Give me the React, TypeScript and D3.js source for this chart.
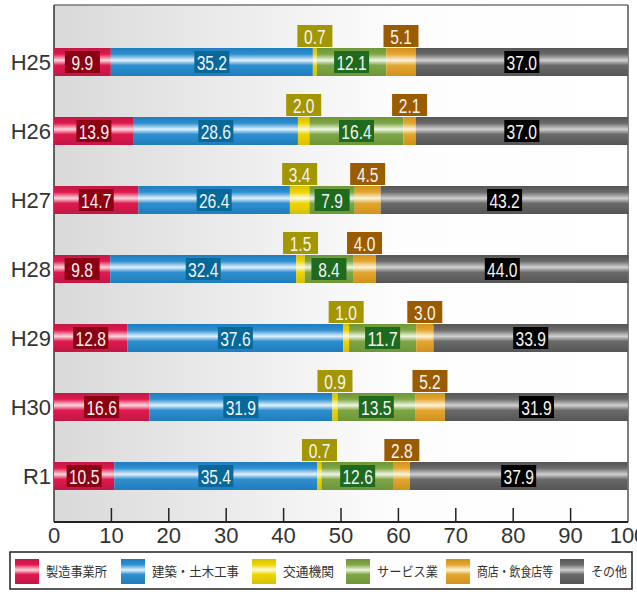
import * as d3 from "d3";

const years = ["H25", "H26", "H27", "H28", "H29", "H30", "R1"];
const seriesNames = ["製造事業所", "建築・土木工事", "交通機関", "サービス業", "商店・飲食店等", "その他"];
const manufacturing = [9.9, 13.9, 14.7, 9.8, 12.8, 16.6, 10.5];
const construction = [35.2, 28.6, 26.4, 32.4, 37.6, 31.9, 35.4];
const transport = [0.7, 2.0, 3.4, 1.5, 1.0, 0.9, 0.7];
const service = [12.1, 16.4, 7.9, 8.4, 11.7, 13.5, 12.6];
const shops = [5.1, 2.1, 4.5, 4.0, 3.0, 5.2, 2.8];
const other = [37.0, 37.0, 43.2, 44.0, 33.9, 31.9, 37.9];
const xTicks = [0, 10, 20, 30, 40, 50, 60, 70, 80, 90, 100];

const seriesValues = [manufacturing, construction, transport, service, shops, other];
// bar colours: [edge, base, highlight]
const barColors = [
  ["#c01848", "#e0184e", "#fbd8de"],
  ["#1f7cbd", "#2e8fcf", "#e2f1ff"],
  ["#d8c000", "#ecd500", "#fffbe0"],
  ["#6e9638", "#7fa646", "#eef6e2"],
  ["#d0921c", "#e3a630", "#fff4dc"],
  ["#555555", "#6a6a6a", "#d0d0d0"],
];
const labelFill = ["#8c0012", "#07689a", "#a39600", "#1e6a1e", "#9b5b00", "#000000"];
const labelAbove = [false, false, true, false, true, false];

const W = 637;
const H = 595;
const plot = { left: 54, right: 628, top: 5, bottom: 522 };
const barH = 28;
const boxW = 35;
const boxH = 22;
const sansFont = "'Liberation Sans', Arial, sans-serif";
const jpFont = "'Noto Sans CJK JP', sans-serif";

// legend layout: swatch left edge and squeezed text width
const legendX = [15, 121, 252, 346, 446, 560];
const legendTextW = [61, 87, 51, 61, 76, 36];

// squeeze the numbers the way the condensed print font does
const condensedWidth = (s: string) => s.replace(".", "").length * 8.8 + 4;

export default function App() {
  const x = d3.scaleLinear().domain([0, 100]).range([plot.left, plot.right]);
  const y = d3.scalePoint<string>().domain(years).range([62, 476]);

  const rows = years.map((yr, i) => {
    let acc = 0;
    return seriesValues.map((vals, s) => {
      const v = vals[i];
      const seg = { s, v, x0: acc, x1: acc + v, yr };
      acc += v;
      return seg;
    });
  });

  return (
    <svg width={W} height={H} style={{ position: "absolute", left: 0, top: 0 }}>
      <defs>
        <linearGradient id="bg" x1="0" x2="1" y1="0" y2="0">
          <stop offset="0" stopColor="#d9d9d9" />
          <stop offset="0.6" stopColor="#fdfdfd" />
          <stop offset="1" stopColor="#ffffff" />
        </linearGradient>
        {barColors.map((c, i) => (
          <linearGradient key={i} id={`g${i}`} x1="0" x2="0" y1="0" y2="1">
            <stop offset="0" stopColor={c[0]} />
            <stop offset="0.22" stopColor={c[1]} />
            <stop offset="0.44" stopColor={c[2]} />
            <stop offset="0.62" stopColor={c[1]} />
            <stop offset="1" stopColor={c[0]} />
          </linearGradient>
        ))}
      </defs>

      <rect x={plot.left} y={plot.top} width={plot.right - plot.left} height={plot.bottom - plot.top} fill="url(#bg)" />
      <line x1={plot.left} x2={plot.right} y1={plot.top} y2={plot.top} stroke="#777" strokeWidth={1.5} />
      <line x1={plot.right} x2={plot.right} y1={plot.top} y2={plot.bottom} stroke="#555" strokeWidth={1.5} />
      <line x1={plot.left} x2={plot.left} y1={plot.top} y2={plot.bottom} stroke="#333" strokeWidth={1.5} />

      {rows.map((segs, i) =>
        segs.map((d) => (
          <rect
            key={`${i}-${d.s}`}
            x={x(d.x0)}
            y={y(d.yr)! - barH / 2}
            width={x(d.x1) - x(d.x0)}
            height={barH}
            fill={`url(#g${d.s})`}
          />
        ))
      )}

      {rows.map((segs, i) =>
        segs.map((d) => {
          const cx = x((d.x0 + d.x1) / 2);
          const cy = labelAbove[d.s] ? y(d.yr)! - barH / 2 - 1 - boxH / 2 : y(d.yr)!;
          const label = d.v.toFixed(1);
          return (
            <g key={`l${i}-${d.s}`}>
              <rect x={cx - boxW / 2} y={cy - boxH / 2} width={boxW} height={boxH} fill={labelFill[d.s]} />
              <text
                x={cx}
                y={cy + 7.5}
                textAnchor="middle"
                fontFamily={sansFont}
                fontSize={20.5}
                fill="#f4f4f4"
                textLength={condensedWidth(label)}
                lengthAdjust="spacingAndGlyphs"
              >
                {label}
              </text>
            </g>
          );
        })
      )}

      {years.map((yr) => (
        <text key={yr} x={plot.left - 3} y={y(yr)! + 8} textAnchor="end" fontFamily={sansFont} fontSize={22} fill="#333">
          {yr}
        </text>
      ))}

      <line x1={plot.left} x2={plot.right} y1={plot.bottom} y2={plot.bottom} stroke="#222" strokeWidth={2} />
      {xTicks.map((t) => (
        <g key={t}>
          {t > 0 && t < 100 && (
            <line x1={x(t)} x2={x(t)} y1={plot.bottom} y2={plot.bottom - 14} stroke="#222" strokeWidth={1.5} />
          )}
          <text x={x(t)} y={543} textAnchor="middle" fontFamily={sansFont} fontSize={22} fill="#333">
            {t}
          </text>
        </g>
      ))}

      <rect x={10} y={552} width={622} height={37} fill="#fff" stroke="#222" strokeWidth={1.5} />
      {seriesNames.map((name, i) => (
        <g key={name}>
          <rect x={legendX[i]} y={559} width={24} height={25} fill={`url(#g${i})`} />
          <text
            x={legendX[i] + 31}
            y={576}
            fontFamily={jpFont}
            fontSize={13}
            fill="#333"
            textLength={legendTextW[i]}
            lengthAdjust="spacingAndGlyphs"
          >
            {name}
          </text>
        </g>
      ))}
    </svg>
  );
}
